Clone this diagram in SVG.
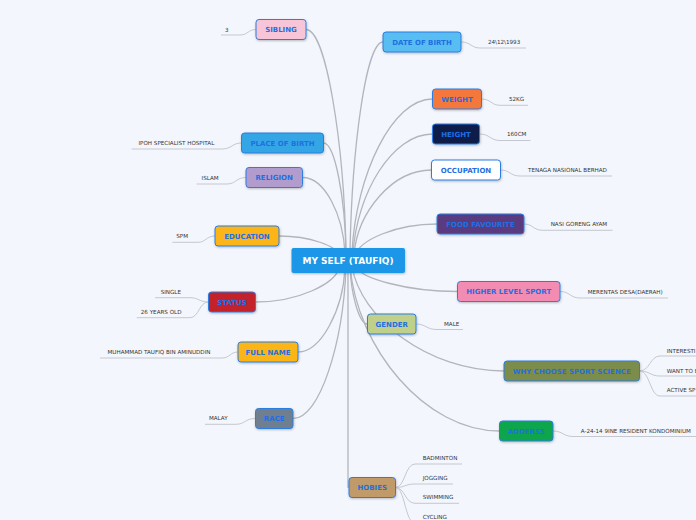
<svg xmlns="http://www.w3.org/2000/svg" width="696" height="520" viewBox="0 0 696 520">
<defs>
<filter id="sh" x="-20%" y="-30%" width="140%" height="170%">
<feDropShadow dx="0.5" dy="1" stdDeviation="0.8" flood-color="#000" flood-opacity="0.25"/>
</filter>
<style>
.n rect{stroke:#2b7de1;stroke-width:1;filter:url(#sh)}
.n text{font-family:"DejaVu Sans",Verdana,sans-serif;font-weight:bold;font-size:7px;fill:#1f6fe3;text-anchor:middle}
.l{font-family:"DejaVu Sans",Verdana,sans-serif;font-size:5.6px;fill:#333}
.e{text-anchor:end}
#conn path{fill:none;stroke:#b3b5bd;stroke-width:1.3}
#leafs path{fill:none;stroke:#c6c8cf;stroke-width:1}
</style>
</defs>
<rect width="696" height="520" fill="#f3f6fd"/>
<g id="conn">
<path d="M346 252 C344 142 326 29.5 306 29.5"/>
<path d="M350 252 C352 147 366 42 383 42"/>
<path d="M352 252 C356 175 392 99 432.5 99"/>
<path d="M353 253 C357 193 392 134 432.5 134"/>
<path d="M354 254 C358 212 392 170 431.5 170"/>
<path d="M355 256 C359 240 396 224 437 224"/>
<path d="M346 252 C345 198 335 143 323.5 143"/>
<path d="M345 253 C343 215 325 177.5 302.5 177.5"/>
<path d="M340 256 C337 246 310 236 279 236"/>
<path d="M340 266 C336 284 298 302 255.5 302"/>
<path d="M345 268 C343 310 321 352 298 352"/>
<path d="M346 268 C343 343 320 418.5 293 418.5"/>
<path d="M348 268 L348 487 L349 487"/>
<path d="M350 266 C351 294 359 324 367.5 324"/>
<path d="M355 266 C360 278 406 291.5 457.5 291.5"/>
<path d="M352 266 C360 318 428 371 504 371"/>
<path d="M350 266 C357 348 425 431 499.5 431"/>
</g>
<g id="leafs">
<path d="M461 42 C471 42 471 48 480 48 L526 48"/>
<path d="M481.5 99 C491 99 491 105.3 500 105.3 L528 105.3"/>
<path d="M479.5 134 C490 134 490 140.5 500 140.5 L530.5 140.5"/>
<path d="M500.5 170 C510 170 510 176 520 176 L612 176"/>
<path d="M524 224 C533 224 533 230.3 543 230.3 L612.5 230.3"/>
<path d="M560 291.5 C570 291.5 570 298 580 298 L668 298"/>
<path d="M416 324 C426 324 426 329.5 437 329.5 L463 329.5"/>
<path d="M639.5 371 C650 371 650 356 660 356 L700 356"/>
<path d="M639.5 371 C650 371 650 376 660 376 L700 376"/>
<path d="M639.5 371 C650 371 650 396 660 396 L700 396"/>
<path d="M553 431 C563 431 563 436.5 573 436.5 L700 436.5"/>
<path d="M395.5 487.5 C405 487.5 405 464 415 464 L462 464"/>
<path d="M395.5 487.5 C405 487.5 405 484 415 484 L453 484"/>
<path d="M395.5 487.5 C405 487.5 405 503.3 415 503.3 L459 503.3"/>
<path d="M395.5 487.5 C405 487.5 405 523 415 523 L460 523"/>
<path d="M256 29.5 C248 29.5 248 35 240 35 L221 35"/>
<path d="M241.5 143 C232 143 232 149 222 149 L131.7 149"/>
<path d="M246 177.5 C236 177.5 236 184 227 184 L196.7 184"/>
<path d="M215 236 C206 236 206 242.3 198 242.3 L172.3 242.3"/>
<path d="M208.5 302 C199 302 199 297.7 190 297.7 L155 297.7"/>
<path d="M208.5 302 C199 302 199 317.7 190 317.7 L136.7 317.7"/>
<path d="M238 352 C230 352 230 358 222 358 L100 358"/>
<path d="M255.5 418.5 C245 418.5 245 424.3 236 424.3 L205 424.3"/>
<text class="l" x="488" y="44">24\12\1993</text>
<text class="l" x="509" y="101">52KG</text>
<text class="l" x="507" y="136">160CM</text>
<text class="l" x="528" y="172">TENAGA NASIONAL BERHAD</text>
<text class="l" x="550.7" y="226">NASI GORENG AYAM</text>
<text class="l" x="587.7" y="293.8">MERENTAS DESA(DAERAH)</text>
<text class="l" x="444" y="325.8">MALE</text>
<text class="l" x="666.7" y="353">INTERESTI</text>
<text class="l" x="666.7" y="373.3">WANT TO B</text>
<text class="l" x="666.7" y="392">ACTIVE SP</text>
<text class="l" x="580.7" y="432.5">A-24-14 9INE RESIDENT KONDOMINIUM</text>
<text class="l" x="422.7" y="460.3">BADMINTON</text>
<text class="l" x="422.7" y="479.7">JOGGING</text>
<text class="l" x="422.7" y="499">SWIMMING</text>
<text class="l" x="422.7" y="518.7">CYCLING</text>
<text class="l e" x="228.5" y="31.7">3</text>
<text class="l e" x="214.3" y="145">IPOH SPECIALIST HOSPITAL</text>
<text class="l e" x="218.7" y="179.7">ISLAM</text>
<text class="l e" x="188" y="237.7">SPM</text>
<text class="l e" x="181" y="293.7">SINGLE</text>
<text class="l e" x="181.5" y="314">26 YEARS OLD</text>
<text class="l e" x="210.5" y="353.7">MUHAMMAD TAUFIQ BIN AMINUDDIN</text>
<text class="l e" x="227.7" y="420.3">MALAY</text>
</g>
<g id="root">
<rect x="291.5" y="248" width="113.5" height="25" rx="2" fill="#1b96e6" filter="url(#sh)"/>
<text x="348" y="264.2" font-family="DejaVu Sans,Verdana,sans-serif" font-weight="bold" font-size="9" fill="#fff" text-anchor="middle">MY SELF (TAUFIQ)</text>
</g>
<g id="sibling" class="n"><rect x="256" y="19.5" width="50" height="20" rx="3" fill="#f7c5d7"/><text x="281" y="32">SIBLING</text></g>
<g id="dob" class="n"><rect x="383" y="32" width="78" height="20" rx="3" fill="#58bdf0"/><text x="422" y="44.5">DATE OF BIRTH</text></g>
<g id="weight" class="n"><rect x="432.5" y="89" width="49" height="20" rx="3" fill="#f4773a"/><text x="457" y="101.5">WEIGHT</text></g>
<g id="height" class="n"><rect x="432.5" y="124" width="47" height="20" rx="3" fill="#0a1e4a"/><text x="456" y="136.5">HEIGHT</text></g>
<g id="occupation" class="n"><rect x="431.5" y="160" width="69" height="20" rx="3" fill="#ffffff"/><text x="466" y="172.5">OCCUPATION</text></g>
<g id="food" class="n"><rect x="437" y="214" width="87" height="20" rx="3" fill="#5a3a80"/><text x="480.5" y="226.5">FOOD FAVOURITE</text></g>
<g id="pob" class="n"><rect x="241.5" y="133" width="82" height="20" rx="3" fill="#34a6e5"/><text x="282.5" y="145.5">PLACE OF BIRTH</text></g>
<g id="religion" class="n"><rect x="246" y="167.5" width="56.5" height="20" rx="3" fill="#b19ccd"/><text x="274.2" y="180">RELIGION</text></g>
<g id="education" class="n"><rect x="215" y="226" width="64" height="20" rx="3" fill="#fbb515"/><text x="247" y="238.5">EDUCATION</text></g>
<g id="status" class="n"><rect x="208.5" y="292" width="47" height="20" rx="3" fill="#c3202c"/><text x="232" y="304.5">STATUS</text></g>
<g id="fullname" class="n"><rect x="238" y="342" width="60" height="20" rx="3" fill="#fbb515"/><text x="268" y="354.5">FULL NAME</text></g>
<g id="race" class="n"><rect x="255.5" y="408.5" width="37.5" height="20" rx="3" fill="#6f7f8f"/><text x="274.2" y="421">RACE</text></g>
<g id="hobies" class="n"><rect x="349" y="477.5" width="46.5" height="20" rx="3" fill="#c09a68"/><text x="372.2" y="490">HOBIES</text></g>
<g id="gender" class="n"><rect x="367.5" y="314" width="48.5" height="20" rx="3" fill="#c0d08a"/><text x="391.7" y="326.5">GENDER</text></g>
<g id="sport" class="n"><rect x="457.5" y="281.5" width="102.5" height="20" rx="3" fill="#f38cb2"/><text x="508.7" y="294">HIGHER LEVEL SPORT</text></g>
<g id="why" class="n"><rect x="504" y="361" width="135.5" height="20" rx="3" fill="#7b8c4c"/><text x="571.7" y="373.5">WHY CHOOSE SPORT SCIENCE</text></g>
<g id="address" class="n"><rect x="499.5" y="421" width="53.5" height="20" rx="3" fill="#10a64e"/><text x="526.2" y="433.5">ADDERSS</text></g>
</svg>
